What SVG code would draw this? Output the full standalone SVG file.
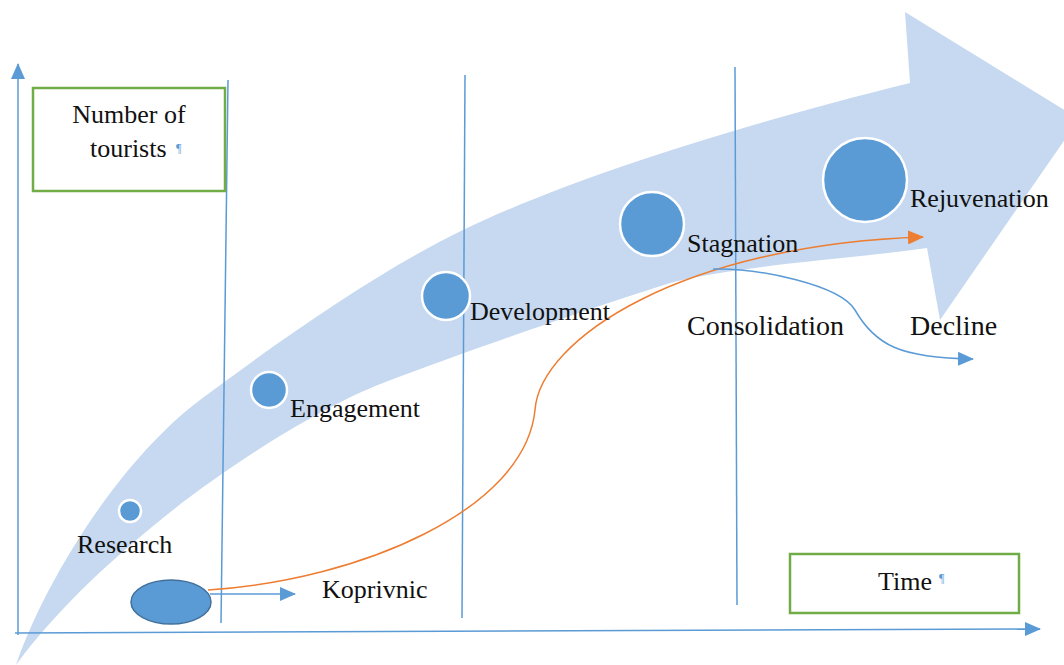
<svg xmlns="http://www.w3.org/2000/svg" width="1064" height="665" viewBox="0 0 1064 665">
<style>
.lbl{font-family:"Liberation Serif","Times New Roman",serif;font-size:26px;fill:#111}
.big{font-size:28px}
.stage{fill:#5b9bd5;stroke:#ffffff;stroke-width:2.5}
.vline{stroke:#5b9bd5;stroke-width:1.5;fill:none}
.box{fill:#ffffff;stroke:#70ad47;stroke-width:2.5}
.pil{font-family:"Liberation Serif",serif;font-size:12px;fill:#5b9bd5}
</style>
<defs>
<marker id="abBig" markerWidth="16" markerHeight="14" refX="15" refY="7" orient="auto" markerUnits="userSpaceOnUse"><path d="M0,0 L16,7 L0,14 Z" fill="#5b9bd5"/></marker>
<marker id="ao" markerWidth="16" markerHeight="14" refX="15" refY="7" orient="auto" markerUnits="userSpaceOnUse"><path d="M0,0 L16,7 L0,14 Z" fill="#ed7d31"/></marker>
</defs>
<rect width="1064" height="665" fill="#ffffff"/>
<g id="band">
<path d="M16,665 C45,580 120,460 200,400 C280,340 380,270 463,230 C560,183 720,130 910,83 L905,12 L1079,119 L940,320 L927,248 C860,258 740,265 670,283 C600,305 470,350 383,383 C320,407 230,465 173,510 C120,552 60,605 16,665 Z" fill="#c6d9f0"/>
</g>
<g id="connectors">
<line class="vline" x1="18" y1="635" x2="18" y2="64" marker-end="url(#abBig)"/>
<line class="vline" x1="15" y1="633" x2="1040" y2="629" marker-end="url(#abBig)"/>
<line class="vline" x1="228" y1="80" x2="221" y2="623"/>
<line class="vline" x1="465" y1="75" x2="462" y2="618"/>
<line class="vline" x1="735" y1="67" x2="737" y2="605"/>
<line class="vline" x1="210" y1="594" x2="295" y2="594" marker-end="url(#abBig)"/>
<path d="M208,590 C360,580 525,510 535,410 C540,340 680,245 923,237" fill="none" stroke="#ed7d31" stroke-width="1.5" marker-end="url(#ao)"/>
<path d="M713,269 C760,268 840,285 855,310 C875,345 900,358 973,359" fill="none" stroke="#5b9bd5" stroke-width="1.5" marker-end="url(#abBig)"/>
</g>
<g id="y-label">
<rect class="box" x="33" y="88" width="192" height="103"/>
<text class="lbl" x="129" y="123" text-anchor="middle">Number of</text>
<text class="lbl" x="90" y="157">tourists</text>
<text class="pil" x="176" y="152">¶</text>
</g>
<g id="x-label">
<rect class="box" x="790" y="554" width="229" height="59"/>
<text class="lbl" x="878" y="590">Time</text>
<text class="pil" x="939" y="582">¶</text>
</g>
<g id="research"><circle class="stage" cx="130" cy="511" r="11"/><text class="lbl" x="77" y="553">Research</text></g>
<g id="engagement"><circle class="stage" cx="269" cy="390" r="18"/><text class="lbl" x="290" y="417">Engagement</text></g>
<g id="development"><circle class="stage" cx="446" cy="296" r="24"/><text class="lbl" x="470" y="320">Development</text></g>
<g id="stagnation"><circle class="stage" cx="652" cy="224" r="32"/><text class="lbl" x="687" y="252">Stagnation</text></g>
<g id="rejuvenation"><circle class="stage" cx="865" cy="180" r="42"/><text class="lbl" x="910" y="207">Rejuvenation</text></g>
<g id="consolidation"><text class="lbl big" x="687" y="335">Consolidation</text></g>
<g id="decline"><text class="lbl big" x="910" y="335">Decline</text></g>
<g id="koprivnic">
<ellipse cx="171" cy="602" rx="40" ry="22" fill="#5b9bd5" stroke="#41719c" stroke-width="1.5"/>
<text class="lbl" x="322" y="598">Koprivnic</text>
</g>
</svg>
